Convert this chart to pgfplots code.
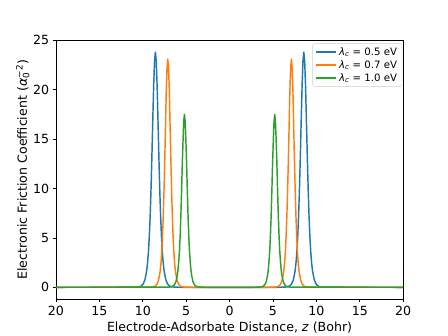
\documentclass[border=0pt]{standalone}
\usepackage{pgfplots}
\pgfplotsset{compat=1.18}
\usepackage{fontspec}
\setmainfont{DejaVu Sans}

\definecolor{tabblue}{HTML}{1F77B4}
\definecolor{taborange}{HTML}{FF7F0E}
\definecolor{tabgreen}{HTML}{2CA02C}

\newcommand{\lab}{\fontsize{13}{15.6}\selectfont}
\newcommand{\lam}[1]{\textit{λ}\textsubscript{\textit{c}} = #1 eV}

\begin{document}
\begin{tikzpicture}
  \useasboundingbox (-0.8in,-0.528in) rectangle (5.6in,4.272in);
  \begin{axis}[
      at={(0,0)}, anchor=south west,
      scale only axis,
      width=4.96in, height=3.696in,
      xmin=-20, xmax=20,
      ymin=-1.19, ymax=25,
      xtick={-20,-15,-10,-5,0,5,10,15,20},
      xticklabels={20,15,10,5,0,5,10,15,20},
      ytick={0,5,10,15,20,25},
      /pgf/number format/assume math mode=true,
      tick label style={font=\lab},
      label style={font=\lab},
      tick align=outside,
      major tick length=3.5pt,
      every tick/.style={black, line width=0.8pt},
      axis line style={line width=0.8pt},
      tick pos=left,
      xlabel={Electrode-Adsorbate Distance, \textit{z} (Bohr)},
      ylabel={Electronic Friction Coefficient (\textit{α}\textsubscript{0}\kern-0.45em\textsuperscript{−2})},
      xlabel style={yshift=0.5pt},
      ylabel style={yshift=-3pt},
      legend cell align=left,
      legend style={at={(0.997,0.988)}, anchor=north east,
        draw=black!20, rounded corners=2pt, font=\fontsize{10.5}{11.5}\selectfont,
        inner xsep=3pt, inner ysep=2pt, row sep=0pt},
      legend image code/.code={\draw[#1, line width=1.9pt] (0cm,0cm) -- (0.72cm,0cm);},
    ]
    % lambda_c = 0.5 eV
    \addplot[tabblue, line width=1.5pt, line join=round] coordinates {
        (-20,0) (-10.75,0.014) (-10.35,0.071) (-10.15,0.158) (-9.95,0.350) (-9.75,0.771)
        (-9.55,1.68) (-9.45,2.47) (-9.35,3.58) (-9.25,5.14) (-9.15,7.26)
        (-9.05,10.00) (-8.95,13.31) (-8.85,16.93) (-8.75,20.36) (-8.65,22.87)
        (-8.55,23.8)
        (-8.45,22.87) (-8.35,20.36) (-8.25,16.93) (-8.15,13.31) (-8.05,10.00)
        (-7.95,7.26) (-7.85,5.14) (-7.75,3.58) (-7.65,2.47) (-7.55,1.68)
        (-7.35,0.771) (-7.15,0.350) (-6.95,0.158) (-6.75,0.071) (-6.35,0.014)
        (-5.5,0) (5.5,0)
        (6.35,0.014) (6.75,0.071) (6.95,0.158) (7.15,0.350) (7.35,0.771)
        (7.55,1.68) (7.65,2.47) (7.75,3.58) (7.85,5.14) (7.95,7.26)
        (8.05,10.00) (8.15,13.31) (8.25,16.93) (8.35,20.36) (8.45,22.87)
        (8.55,23.8)
        (8.65,22.87) (8.75,20.36) (8.85,16.93) (8.95,13.31) (9.05,10.00)
        (9.15,7.26) (9.25,5.14) (9.35,3.58) (9.45,2.47) (9.55,1.68)
        (9.75,0.771) (9.95,0.350) (10.15,0.158) (10.35,0.071) (10.75,0.014)
        (20,0)
      };
    \addlegendentry{\lam{0.5}}

    % lambda_c = 0.7 eV
    \addplot[taborange, line width=1.5pt, line join=round] coordinates {
        (-20,0) (-9.06,0.014) (-8.70,0.069) (-8.53,0.153) (-8.35,0.339) (-8.18,0.748)
        (-8.00,1.63) (-7.91,2.39) (-7.82,3.48) (-7.74,4.99) (-7.65,7.05)
        (-7.56,9.70) (-7.47,12.92) (-7.38,16.44) (-7.30,19.76) (-7.21,22.20)
        (-7.12,23.1)
        (-7.03,22.20) (-6.94,19.76) (-6.86,16.44) (-6.77,12.92) (-6.68,9.70)
        (-6.59,7.05) (-6.50,4.99) (-6.42,3.48) (-6.33,2.39) (-6.24,1.63)
        (-6.06,0.748) (-5.89,0.339) (-5.71,0.153) (-5.54,0.069) (-5.18,0.014)
        (-4.4,0) (4.4,0)
        (5.18,0.014) (5.54,0.069) (5.71,0.153) (5.89,0.339) (6.06,0.748)
        (6.24,1.63) (6.33,2.39) (6.42,3.48) (6.50,4.99) (6.59,7.05)
        (6.68,9.70) (6.77,12.92) (6.86,16.44) (6.94,19.76) (7.03,22.20)
        (7.12,23.1)
        (7.21,22.20) (7.30,19.76) (7.38,16.44) (7.47,12.92) (7.56,9.70)
        (7.65,7.05) (7.74,4.99) (7.82,3.48) (7.91,2.39) (8.00,1.63)
        (8.18,0.748) (8.35,0.339) (8.53,0.153) (8.70,0.069) (9.06,0.014)
        (20,0)
      };
    \addlegendentry{\lam{0.7}}

    % lambda_c = 1.0 eV
    \addplot[tabgreen, line width=1.5pt, line join=round] coordinates {
        (-20,0) (-7.00,0.011) (-6.68,0.052) (-6.51,0.116) (-6.35,0.257) (-6.18,0.567)
        (-6.02,1.24) (-5.94,1.81) (-5.86,2.63) (-5.77,3.78) (-5.69,5.34)
        (-5.61,7.35) (-5.53,9.78) (-5.45,12.45) (-5.36,14.97) (-5.28,16.82)
        (-5.2,17.5)
        (-5.12,16.82) (-5.04,14.97) (-4.95,12.45) (-4.87,9.78) (-4.79,7.35)
        (-4.71,5.34) (-4.63,3.78) (-4.54,2.63) (-4.46,1.81) (-4.38,1.24)
        (-4.22,0.567) (-4.05,0.257) (-3.89,0.116) (-3.72,0.052) (-3.40,0.011)
        (-2.6,0) (2.6,0)
        (3.40,0.011) (3.72,0.052) (3.89,0.116) (4.05,0.257) (4.22,0.567)
        (4.38,1.24) (4.46,1.81) (4.54,2.63) (4.63,3.78) (4.71,5.34)
        (4.79,7.35) (4.87,9.78) (4.95,12.45) (5.04,14.97) (5.12,16.82)
        (5.2,17.5)
        (5.28,16.82) (5.36,14.97) (5.45,12.45) (5.53,9.78) (5.61,7.35)
        (5.69,5.34) (5.77,3.78) (5.86,2.63) (5.94,1.81) (6.02,1.24)
        (6.18,0.567) (6.35,0.257) (6.51,0.116) (6.68,0.052) (7.00,0.011)
        (20,0)
      };
    \addlegendentry{\lam{1.0}}
  \end{axis}
\end{tikzpicture}
\end{document}
